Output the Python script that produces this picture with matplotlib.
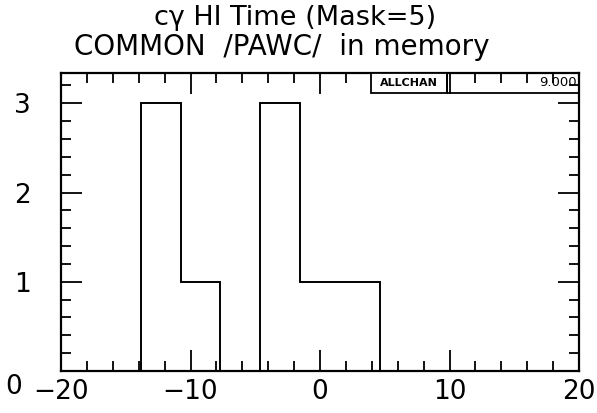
import matplotlib
matplotlib.use('Agg')
import matplotlib.pyplot as plt
import matplotlib.transforms as mtransforms
from matplotlib.patches import Rectangle
from matplotlib.ticker import MultipleLocator
import numpy as np

# histogram: 13 bins from -20 to 20
x_min, x_max, n_bins = -20, 20, 13
counts = [0, 0, 3, 1, 0, 3, 1, 1, 0, 0, 0, 0, 0]
entries = 9.0

title_1 = 'c\u03b3 HI Time (Mask=5)'
title_2 = 'COMMON  /PAWC/  in memory'
stat_name = 'ALLCHAN'

edges = np.linspace(x_min, x_max, n_bins + 1)

fig = plt.figure(figsize=(5.97, 4.13), dpi=100)
ax = fig.add_axes([61 / 597, 1 - 371 / 413, 518 / 597, 298 / 413])

ax.stairs(counts, edges, color='black', linewidth=1.4, baseline=0)

ax.set_xlim(x_min, x_max)
ax.set_ylim(0, 3.34)

ax.xaxis.set_major_locator(MultipleLocator(10))
ax.xaxis.set_minor_locator(MultipleLocator(2))
ax.yaxis.set_major_locator(MultipleLocator(1))
ax.yaxis.set_minor_locator(MultipleLocator(0.2))

ax.tick_params(which='both', direction='in', top=True, right=True,
               width=1.3, color='black')
ax.tick_params(which='major', length=15)
ax.tick_params(which='minor', length=7)
ax.tick_params(axis='x', which='major', labelsize=19, pad=6)
ax.tick_params(axis='y', which='major', labelsize=19, pad=22)

for sp in ax.spines.values():
    sp.set_linewidth(1.6)

ax.set_xticks([-20, -10, 0, 10, 20])
ax.set_xticklabels(['\u221220', '\u221210', '0', '10', '20'])
ax.set_yticks([0, 1, 2, 3])
ax.set_yticklabels(['0', '1', '2', '3'])

# PAW puts the "0" label a bit lower
lab0 = ax.get_yticklabels()[0]
lab0.set_transform(lab0.get_transform() +
                   mtransforms.ScaledTranslation(-6 / 72, -9 / 72, fig.dpi_scale_trans))

# stats box
box_left, box_mid, box_bottom = 0.598, 0.745, 0.934
ax.add_patch(Rectangle((box_left, box_bottom), box_mid - box_left, 1 - box_bottom,
                       transform=ax.transAxes, facecolor='white', edgecolor='black',
                       linewidth=1.3, zorder=5, clip_on=False))
ax.add_patch(Rectangle((box_mid, box_bottom), 1 - box_mid, 1 - box_bottom,
                       transform=ax.transAxes, facecolor='none', edgecolor='black',
                       linewidth=1.3, zorder=5, clip_on=False))
ax.text((box_left + box_mid) / 2, (box_bottom + 1) / 2, stat_name,
        transform=ax.transAxes, ha='center', va='center', fontsize=8,
        fontweight='bold', zorder=6)
ax.text(0.995, (box_bottom + 1) / 2, f'{entries:.3f}',
        transform=ax.transAxes, ha='right', va='center', fontsize=9.5, zorder=6)

fig.text(0.495, 0.957, title_1, ha='center', va='center', fontsize=19.5)
fig.text(0.472, 0.885, title_2, ha='center', va='center', fontsize=20)

fig.savefig('out.png', dpi=100)
